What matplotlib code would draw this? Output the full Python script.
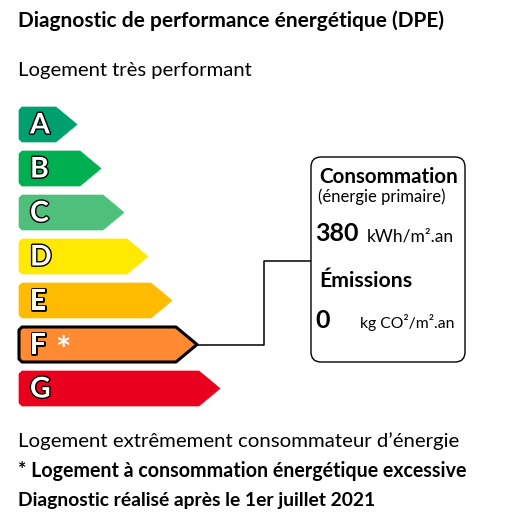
import matplotlib
matplotlib.use("Agg")
import matplotlib.pyplot as plt
import matplotlib.patheffects as pe
from matplotlib.patches import Polygon, FancyBboxPatch

# ---- data ----
classes = ["A", "B", "C", "D", "E", "F", "G"]
class_lengths = [58, 82, 105, 129, 153, 178, 201]
class_colors = ["#00a06e", "#00b050", "#4fc07b", "#ffe900", "#ffbb00", "#ff8a32", "#e8001c"]
current_class = "F"
consumption_value = "380"
consumption_unit = "kWh/m².an"
emission_value = "0"
emission_unit = "kg CO²/m².an"
title = "Diagnostic de performance énergétique (DPE)"
top_label = "Logement très performant"
bottom_label = "Logement extrêmement consommateur d’énergie"
note_1 = "* Logement à consommation énergétique excessive"
note_2 = "Diagnostic réalisé après le 1er juillet 2021"

FONT = "Lato"

fig = plt.figure(figsize=(5.2, 5.2), dpi=100)
ax = fig.add_axes([0, 0, 1, 1])
ax.set_xlim(0, 520)
ax.set_ylim(520, 0)
ax.axis("off")

# ---- texts ----
ax.text(18, 27, title, fontsize=15, fontweight="bold", family=FONT, va="baseline")
ax.text(18, 76, top_label, fontsize=14.6, family=FONT, va="baseline")
ax.text(18, 447, bottom_label, fontsize=14.7, family=FONT, va="baseline")
ax.text(18, 477, note_1, fontsize=14.1, fontweight="bold", family=FONT, va="baseline")
ax.text(18, 506, note_2, fontsize=13.9, fontweight="bold", family=FONT, va="baseline")

# ---- arrows ----
x0 = 19
top0 = 107
step = 44
h = 35
head = 21
tip_y = None
tip_x = None
for i, (c, L, col) in enumerate(zip(classes, class_lengths, class_colors)):
    y0 = top0 + i * step
    y1 = y0 + h
    r = 3
    pts = [
        (x0 + r, y0), (x0 + L - head, y0), (x0 + L, y0 + h / 2),
        (x0 + L - head, y1), (x0 + r, y1), (x0, y1 - r), (x0, y0 + r),
    ]
    is_cur = c == current_class
    poly = Polygon(pts, closed=True, facecolor=col,
                   edgecolor="black" if is_cur else col,
                   linewidth=2.2 if is_cur else 0.5, joinstyle="round", zorder=2)
    ax.add_patch(poly)
    ax.text(x0 + 11, y0 + h / 2 + 1, c, fontsize=20.5, fontweight="bold", family=FONT,
            color="white", va="center", ha="left", zorder=3,
            path_effects=[pe.withStroke(linewidth=2.0, foreground="black")])
    if is_cur:
        ax.text(x0 + 36, y0 + h / 2 + 7, "*", fontsize=26, fontweight="bold", family=FONT,
                color="white", va="center", ha="left", zorder=3)
        tip_x = x0 + L
        tip_y = y0 + h / 2

# ---- connector ----
bx0, by0, bx1, by1 = 311, 157, 465, 362
mid_x = 264
conn_y = 261
ax.plot([tip_x, mid_x, mid_x, bx0], [tip_y, tip_y, conn_y, conn_y],
        color="black", linewidth=1.1, zorder=1)

# ---- box ----
box = FancyBboxPatch((bx0, by0), bx1 - bx0, by1 - by0,
                     boxstyle="round,pad=0,rounding_size=10",
                     facecolor="white", edgecolor="black", linewidth=1.0, zorder=2)
ax.add_patch(box)

ax.text(319, 183, "Consommation", fontsize=14.8, fontweight="bold", family=FONT, va="baseline", zorder=3)
ax.text(318, 202, "(énergie primaire)", fontsize=12, family=FONT, va="baseline", zorder=3)
ax.text(315, 241, consumption_value, fontsize=18, fontweight="bold", family=FONT, va="baseline", zorder=3)
ax.text(367, 241, consumption_unit, fontsize=12.5, family=FONT, va="baseline", zorder=3)
ax.text(319, 287, "Émissions", fontsize=15.3, fontweight="bold", family=FONT, va="baseline", zorder=3)
ax.text(315, 328, emission_value, fontsize=18, fontweight="bold", family=FONT, va="baseline", zorder=3)
ax.text(360, 328, emission_unit, fontsize=11.3, family=FONT, va="baseline", zorder=3)

fig.savefig("out.png", dpi=100, facecolor="white")
